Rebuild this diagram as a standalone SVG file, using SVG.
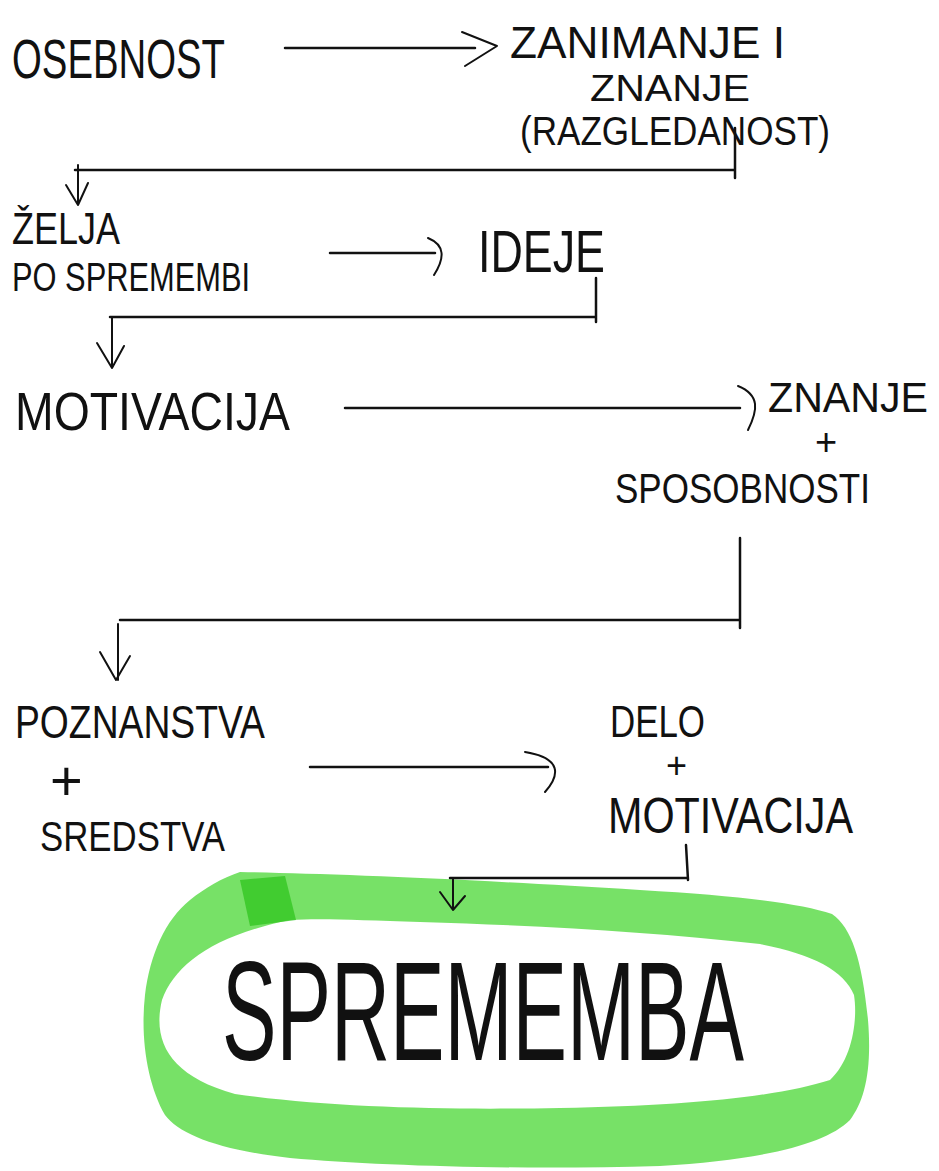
<svg xmlns="http://www.w3.org/2000/svg" width="939" height="1171" viewBox="0 0 939 1171">
<style>
.t{font-family:"Liberation Sans Narrow","Liberation Sans",Arial,sans-serif;fill:#111;}
.c{fill:none;stroke:#111;stroke-width:2.5;stroke-linecap:round;stroke-linejoin:round;}
.h{fill:none;stroke:#111;stroke-width:2;stroke-linecap:round;stroke-linejoin:round;}
</style>
<rect width="939" height="1171" fill="#fff"/>
<g id="ring">
<path fill="#5fdc4c" fill-opacity="0.85" fill-rule="evenodd" d="M240,872 C330,874 450,878 640,890 C740,896 800,903 832,914 C852,928 862,960 868,1020 C872,1070 865,1100 850,1120 C825,1145 760,1160 660,1166 C520,1170 380,1166 290,1158 C220,1150 180,1135 165,1115 C148,1085 140,1040 145,995 C150,955 165,920 190,900 C205,888 222,878 240,872 Z M290,920 C212,936 175,965 162,1000 C152,1042 170,1076 235,1094 C330,1108 450,1110 560,1108 C690,1106 780,1096 830,1080 C852,1060 858,1020 854,995 C844,970 812,954 760,944 C650,932 550,926 420,922 C360,920 320,918 290,920 Z"/>
<path fill="#2fc41e" fill-opacity="0.75" d="M240,880 L285,876 L296,920 L250,926 Z"/>
</g>
<g id="connectors">
<path class="c" d="M285,48 L475,48"/><path class="h" d="M462,32 L497,46 L465,66"/>
<path class="c" d="M735,128 L735,178 M735,170 L75,170"/><path class="h" d="M78,165 L78,205 M66,185 L78,205 L88,183"/>
<path class="c" d="M330,253 L435,253"/><path class="h" d="M428,238 C445,245 445,258 434,275"/>
<path class="c" d="M596,278 L596,322 M596,317 L110,317"/><path class="h" d="M112,317 L112,368 M97,343 L112,368 L124,346"/>
<path class="c" d="M345,408 L740,408"/><path class="h" d="M738,386 C760,395 758,410 748,430"/>
<path class="c" d="M740,538 L740,628 M740,620 L120,620"/><path class="h" d="M118,624 L118,680 M100,652 L116,680 L130,656"/>
<path class="c" d="M310,767 L548,767"/><path class="h" d="M525,752 C562,758 560,775 545,792"/>
<path class="c" d="M686,845 L688,880 M688,878 L450,878"/><path class="h" d="M453,878 L453,910 M440,892 L453,910 L465,896"/>
</g>
<g id="osebnost"><text class="t" x="12" y="78" font-size="56" textLength="213" lengthAdjust="spacingAndGlyphs">OSEBNOST</text></g>
<g id="zanimanje">
<text class="t" x="510" y="58" font-size="44" textLength="275" lengthAdjust="spacingAndGlyphs">ZANIMANJE I</text>
<text class="t" x="590" y="101" font-size="36" textLength="160" lengthAdjust="spacingAndGlyphs">ZNANJE</text>
<text class="t" x="520" y="145" font-size="40" textLength="310" lengthAdjust="spacingAndGlyphs">(RAZGLEDANOST)</text>
</g>
<g id="zelja">
<text class="t" x="12" y="244" font-size="44" textLength="108" lengthAdjust="spacingAndGlyphs">ŽELJA</text>
<text class="t" x="12" y="291" font-size="40" textLength="238" lengthAdjust="spacingAndGlyphs">PO SPREMEMBI</text>
</g>
<g id="ideje"><text class="t" x="478" y="272" font-size="60" textLength="127" lengthAdjust="spacingAndGlyphs">IDEJE</text></g>
<g id="motivacija"><text class="t" x="15" y="430" font-size="54" textLength="275" lengthAdjust="spacingAndGlyphs">MOTIVACIJA</text></g>
<g id="znanje-sposobnosti">
<text class="t" x="768" y="412" font-size="42" textLength="160" lengthAdjust="spacingAndGlyphs">ZNANJE</text>
<text class="t" x="815" y="455" font-size="38">+</text>
<text class="t" x="615" y="503" font-size="43" textLength="255" lengthAdjust="spacingAndGlyphs">SPOSOBNOSTI</text>
</g>
<g id="poznanstva">
<text class="t" x="15" y="738" font-size="46" textLength="250" lengthAdjust="spacingAndGlyphs">POZNANSTVA</text>
<text class="t" x="50" y="800" font-size="56">+</text>
<text class="t" x="40" y="851" font-size="42" textLength="185" lengthAdjust="spacingAndGlyphs">SREDSTVA</text>
</g>
<g id="delo">
<text class="t" x="610" y="737" font-size="44" textLength="95" lengthAdjust="spacingAndGlyphs">DELO</text>
<text class="t" x="666" y="778" font-size="36">+</text>
<text class="t" x="608" y="833" font-size="50" textLength="245" lengthAdjust="spacingAndGlyphs">MOTIVACIJA</text>
</g>
<g id="sprememba"><text class="t" transform="translate(222,1060) scale(1,1.3)" x="0" y="0" font-size="108" textLength="522" lengthAdjust="spacingAndGlyphs">SPREMEMBA</text></g>
</svg>
